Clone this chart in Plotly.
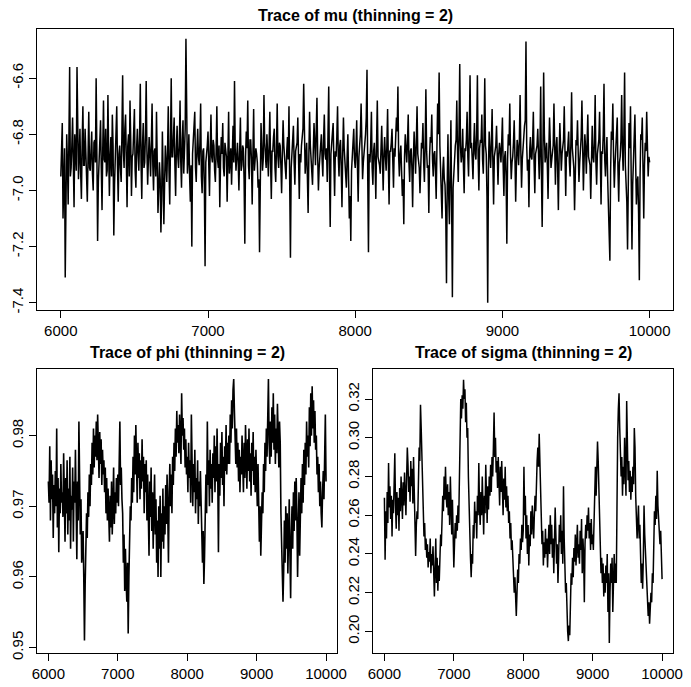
import numpy as np
import plotly.graph_objects as go

# ---------------- data ----------------
# mu at iterations 6000, 6010, ..., 10000
mu_values = [
    -6.95, -6.76, -6.98, -7.31, -6.80, -7.05, -6.56, -6.92, -6.74, -7.06, -6.85, -6.56, -6.96, -6.78, -7.03, -6.70, -6.91, -6.84, -7.04, -6.72,
    -6.93, -6.79, -7.00, -6.82, -6.60, -7.18, -6.86, -6.75, -7.07, -6.68, -6.90, -6.95, -6.66, -7.02, -6.81, -6.73, -7.16, -6.88, -6.70, -7.04,
    -6.84, -6.97, -6.59, -6.92, -6.73, -7.06, -6.80, -6.68, -7.02, -6.87, -6.71, -6.99, -6.78, -6.93, -6.62, -7.03, -6.76, -6.90, -6.61, -6.98,
    -6.81, -6.95, -6.69, -7.00, -6.85, -6.72, -7.08, -6.90, -7.15, -6.79, -7.12, -6.84, -6.97, -6.70, -7.05, -6.60, -6.88, -6.74, -7.02, -6.77,
    -6.92, -6.68, -6.99, -6.75, -6.86, -6.46, -6.94, -6.80, -7.04, -7.20, -6.83, -6.72, -6.97, -6.78, -6.91, -6.69, -7.01, -6.85, -7.27, -6.88,
    -6.79, -7.02, -6.73, -6.90, -6.84, -6.97, -6.70, -6.92, -7.06, -6.81, -6.76, -6.95, -6.86, -7.04, -6.72, -6.89, -6.98, -6.77, -6.61, -6.93,
    -6.83, -7.00, -6.74, -6.91, -6.85, -7.19, -6.79, -6.68, -6.96, -6.82, -7.05, -6.71, -6.90, -6.87, -6.99, -7.22, -6.76, -6.93, -6.66, -6.88,
    -6.80, -6.95, -6.72, -7.03, -6.86, -6.78, -6.97, -6.69, -6.92, -6.84, -7.01, -6.75, -6.89, -6.96, -6.81, -6.70, -7.24, -6.87, -6.77, -6.98,
    -6.85, -6.74, -7.03, -6.90, -6.79, -6.62, -6.94, -6.83, -7.08, -6.72, -6.88, -6.98, -6.76, -6.91, -6.67, -7.00, -6.86, -6.80, -6.95, -6.73,
    -6.89, -6.97, -6.63, -7.13, -6.84, -6.76, -7.02, -6.88, -6.70, -6.95, -6.82, -7.06, -6.74, -6.90, -6.99, -6.80, -7.10, -7.18, -6.86, -6.78,
    -6.92, -6.75, -7.04, -6.84, -6.69, -6.96, -6.87, -6.80, -6.57, -7.22, -6.90, -6.72, -6.98, -6.83, -7.03, -6.68, -6.89, -6.94, -6.77, -7.00,
    -6.81, -6.93, -6.71, -7.05, -6.86, -6.78, -6.99, -6.88, -6.74, -6.63, -6.95, -6.84, -7.02, -7.12, -6.80, -6.90, -6.73, -6.97, -6.85, -7.06,
    -6.79, -6.94, -6.70, -6.89, -7.01, -6.83, -6.76, -6.97, -6.64, -6.92, -7.08, -6.81, -6.73, -6.95, -6.86, -7.03, -6.69, -6.58, -6.91, -7.10,
    -6.88, -6.98, -7.33, -6.80, -7.12, -6.75, -7.38, -6.93, -6.84, -6.68, -6.97, -6.55, -6.90, -6.78, -7.01, -6.86, -6.72, -6.95, -6.59, -6.83,
    -6.96, -6.76, -6.89, -6.59, -7.00, -6.82, -6.73, -6.94, -6.60, -6.87, -7.40, -6.79, -6.92, -6.71, -7.05, -6.85, -6.77, -6.98, -6.83, -6.90,
    -6.74, -7.02, -6.86, -7.19, -6.80, -6.69, -6.96, -6.88, -6.75, -7.04, -6.82, -6.91, -6.66, -6.99, -6.84, -6.77, -6.47, -6.93, -7.06, -6.81,
    -6.89, -6.72, -7.01, -6.85, -6.78, -6.96, -6.63, -7.13, -6.58, -6.90, -6.83, -7.03, -6.74, -6.92, -6.87, -6.69, -6.98, -6.81, -7.07, -6.76,
    -6.93, -6.84, -6.70, -7.02, -6.88, -6.79, -6.95, -6.65, -6.91, -7.07, -6.82, -6.75, -6.97, -6.86, -6.68, -7.00, -6.80, -6.94, -6.73, -6.89,
    -7.03, -6.77, -6.90, -6.66, -6.98, -6.84, -6.72, -7.05, -6.87, -6.62, -6.95, -6.81, -7.10, -7.25, -6.79, -6.69, -6.99, -6.85, -6.74, -7.04,
    -6.88, -6.66, -6.93, -6.58, -6.98, -7.21, -6.76, -6.70, -7.21, -6.86, -6.73, -7.05, -6.95, -7.32, -6.80, -6.74, -7.10, -6.83, -6.72, -6.95,
    -6.90,
]
# mu at iterations 6005, 6015, ..., 9995
mu_values_mid = [
    -6.88, -7.10, -6.85, -7.05, -6.90, -6.82, -6.95, -6.84, -6.90, -6.80, -6.93, -6.86, -6.88, -6.94, -6.83, -6.91, -6.78, -6.95, -6.87, -6.92,
    -6.86, -6.94, -6.83, -6.90, -6.87, -6.97, -6.81, -6.92, -6.85, -6.89, -6.78, -6.93, -6.86, -6.88, -6.95, -6.84, -6.98, -6.82, -6.91, -6.87,
    -6.92, -6.80, -6.86, -6.78, -6.89, -6.84, -6.95, -6.82, -6.88, -6.79, -6.93, -6.85, -6.87, -6.81, -6.90, -6.84, -6.92, -6.80, -6.86, -6.89,
    -6.87, -6.83, -6.91, -6.86, -6.95, -6.89, -7.00, -6.96, -7.03, -6.94, -6.98, -6.90, -6.86, -6.93, -6.84, -6.88, -6.81, -6.91, -6.85, -6.88,
    -6.84, -6.90, -6.82, -6.94, -6.78, -6.86, -6.89, -6.95, -6.91, -6.87, -6.80, -6.92, -6.85, -6.88, -6.83, -6.95, -6.86, -6.98, -6.90, -6.84,
    -6.91, -6.85, -6.88, -6.82, -6.93, -6.86, -6.89, -6.84, -6.90, -6.87, -6.92, -6.83, -6.88, -6.86, -6.94, -6.85, -6.81, -6.90, -6.86, -6.88,
    -6.90, -6.86, -6.93, -6.84, -6.96, -6.88, -6.85, -6.91, -6.82, -6.89, -6.87, -6.93, -6.85, -6.90, -6.96, -6.87, -6.84, -6.89, -6.83, -6.92,
    -6.87, -6.84, -6.90, -6.86, -6.81, -6.92, -6.85, -6.88, -6.83, -6.91, -6.87, -6.84, -6.93, -6.86, -6.89, -6.98, -6.92, -6.85, -6.90, -6.86,
    -6.83, -6.90, -6.87, -6.84, -6.78, -6.86, -6.89, -6.95, -6.88, -6.84, -6.91, -6.86, -6.83, -6.79, -6.88, -6.92, -6.85, -6.89, -6.82, -6.87,
    -6.85, -6.80, -6.93, -6.87, -6.82, -6.90, -6.86, -6.81, -6.88, -6.84, -6.92, -6.87, -6.85, -6.91, -6.88, -6.96, -7.02, -6.93, -6.84, -6.89,
    -6.86, -6.91, -6.88, -6.80, -6.85, -6.90, -6.83, -6.74, -6.95, -6.87, -6.84, -6.92, -6.86, -6.90, -6.83, -6.88, -6.91, -6.85, -6.89, -6.87,
    -6.88, -6.84, -6.90, -6.86, -6.83, -6.89, -6.85, -6.81, -6.79, -6.88, -6.87, -6.93, -6.96, -6.88, -6.85, -6.83, -6.90, -6.86, -6.92, -6.89,
    -6.86, -6.83, -6.87, -6.92, -6.88, -6.85, -6.90, -6.84, -6.86, -6.91, -6.88, -6.83, -6.89, -6.87, -6.93, -6.85, -6.80, -6.84, -6.97, -6.93,
    -6.96, -7.08, -6.98, -7.02, -6.94, -7.05, -6.99, -6.90, -6.82, -6.86, -6.80, -6.84, -6.87, -6.91, -6.85, -6.82, -6.88, -6.79, -6.85, -6.89,
    -6.84, -6.87, -6.80, -6.88, -6.85, -6.83, -6.89, -6.81, -6.84, -7.02, -6.92, -6.86, -6.83, -6.90, -6.88, -6.84, -6.91, -6.87, -6.86, -6.83,
    -6.91, -6.88, -6.95, -6.89, -6.84, -6.87, -6.90, -6.83, -6.88, -6.91, -6.85, -6.82, -6.86, -6.89, -6.83, -6.75, -6.84, -6.89, -6.86, -6.88,
    -6.83, -6.90, -6.87, -6.84, -6.91, -6.85, -6.94, -6.88, -6.80, -6.87, -6.91, -6.86, -6.83, -6.89, -6.84, -6.88, -6.85, -6.92, -6.88, -6.84,
    -6.87, -6.82, -6.89, -6.86, -6.84, -6.90, -6.83, -6.85, -6.92, -6.88, -6.84, -6.87, -6.90, -6.81, -6.86, -6.89, -6.85, -6.83, -6.88, -6.91,
    -6.86, -6.88, -6.83, -6.90, -6.87, -6.82, -6.92, -6.86, -6.80, -6.89, -6.87, -6.96, -7.12, -6.93, -6.82, -6.88, -6.91, -6.84, -6.93, -6.90,
    -6.82, -6.85, -6.80, -6.91, -7.04, -6.94, -6.85, -6.96, -6.98, -6.84, -6.90, -6.97, -7.08, -6.95, -6.82, -6.92, -6.91, -6.86, -6.84, -6.88,
]

# phi at iterations 6000, 6010, ..., 10000
phi_values = [
    0.9735, 0.9705, 0.9785, 0.9680, 0.9765, 0.9710, 0.9745, 0.9655, 0.9730, 0.9690, 0.9750, 0.9700, 0.9810, 0.9670, 0.9740, 0.9635, 0.9725, 0.9690, 0.9760, 0.9705,
    0.9720, 0.9685, 0.9775, 0.9700, 0.9650, 0.9740, 0.9690, 0.9765, 0.9660, 0.9725, 0.9680, 0.9770, 0.9640, 0.9715, 0.9695, 0.9755, 0.9650, 0.9735, 0.9705, 0.9780,
    0.9700, 0.9625, 0.9735, 0.9680, 0.9820, 0.9690, 0.9660, 0.9710, 0.9620, 0.9640, 0.9665, 0.9600, 0.9510, 0.9590, 0.9640, 0.9690, 0.9655, 0.9720, 0.9685, 0.9745,
    0.9700, 0.9760, 0.9730, 0.9790, 0.9745, 0.9810, 0.9755, 0.9800, 0.9770, 0.9820, 0.9765, 0.9830, 0.9785, 0.9740, 0.9805, 0.9760, 0.9795, 0.9730, 0.9780, 0.9745,
    0.9765, 0.9720, 0.9755, 0.9690, 0.9740, 0.9680, 0.9725, 0.9700, 0.9650, 0.9715, 0.9670, 0.9735, 0.9660, 0.9700, 0.9755, 0.9675, 0.9720, 0.9690, 0.9740, 0.9705,
    0.9745, 0.9700, 0.9760, 0.9820, 0.9730, 0.9755, 0.9710, 0.9690, 0.9620, 0.9660, 0.9580, 0.9640, 0.9595, 0.9565, 0.9620, 0.9520, 0.9600, 0.9650, 0.9700, 0.9680,
    0.9740, 0.9705, 0.9770, 0.9720, 0.9800, 0.9745, 0.9815, 0.9760, 0.9705, 0.9790, 0.9740, 0.9775, 0.9710, 0.9765, 0.9725, 0.9795, 0.9735, 0.9770, 0.9690, 0.9760,
    0.9720, 0.9765, 0.9680, 0.9745, 0.9700, 0.9630, 0.9735, 0.9685, 0.9755, 0.9665, 0.9720, 0.9640, 0.9700, 0.9745, 0.9660, 0.9710, 0.9620, 0.9680, 0.9600, 0.9700,
    0.9640, 0.9715, 0.9600, 0.9690, 0.9650, 0.9725, 0.9640, 0.9700, 0.9660, 0.9730, 0.9675, 0.9745, 0.9690, 0.9620, 0.9720, 0.9760, 0.9700, 0.9745, 0.9690, 0.9770,
    0.9730, 0.9790, 0.9750, 0.9810, 0.9770, 0.9835, 0.9790, 0.9815, 0.9775, 0.9830, 0.9795, 0.9760, 0.9860, 0.9800, 0.9825, 0.9780, 0.9810, 0.9755, 0.9795, 0.9745,
    0.9770, 0.9720, 0.9790, 0.9740, 0.9765, 0.9705, 0.9830, 0.9745, 0.9700, 0.9760, 0.9720, 0.9780, 0.9690, 0.9740, 0.9710, 0.9765, 0.9675, 0.9735, 0.9700, 0.9750,
    0.9690, 0.9650, 0.9620, 0.9665, 0.9590, 0.9630, 0.9700, 0.9745, 0.9690, 0.9820, 0.9730, 0.9765, 0.9700, 0.9780, 0.9725, 0.9760, 0.9705, 0.9775, 0.9740, 0.9800,
    0.9720, 0.9785, 0.9735, 0.9810, 0.9745, 0.9635, 0.9760, 0.9715, 0.9790, 0.9740, 0.9805, 0.9730, 0.9770, 0.9700, 0.9785, 0.9750, 0.9815, 0.9745, 0.9790, 0.9760,
    0.9800, 0.9760, 0.9830, 0.9790, 0.9850, 0.9810, 0.9865, 0.9880, 0.9835, 0.9790, 0.9760, 0.9810, 0.9755, 0.9790, 0.9735, 0.9780, 0.9720, 0.9770, 0.9745, 0.9800,
    0.9760, 0.9720, 0.9790, 0.9740, 0.9815, 0.9760, 0.9725, 0.9795, 0.9750, 0.9810, 0.9735, 0.9775, 0.9715, 0.9790, 0.9750, 0.9805, 0.9730, 0.9770, 0.9720, 0.9780,
    0.9740, 0.9700, 0.9760, 0.9680, 0.9650, 0.9700, 0.9630, 0.9675, 0.9720, 0.9690, 0.9760, 0.9720, 0.9790, 0.9750, 0.9810, 0.9770, 0.9830, 0.9880, 0.9790, 0.9760,
    0.9820, 0.9770, 0.9840, 0.9790, 0.9860, 0.9780, 0.9830, 0.9760, 0.9810, 0.9775, 0.9845, 0.9790, 0.9755, 0.9820, 0.9790, 0.9690, 0.9640, 0.9590, 0.9565, 0.9610,
    0.9680, 0.9620, 0.9700, 0.9640, 0.9690, 0.9605, 0.9665, 0.9710, 0.9630, 0.9570, 0.9660, 0.9700, 0.9640, 0.9720, 0.9665, 0.9735, 0.9680, 0.9740, 0.9690, 0.9600,
    0.9660, 0.9720, 0.9630, 0.9700, 0.9740, 0.9690, 0.9760, 0.9705, 0.9780, 0.9730, 0.9790, 0.9745, 0.9820, 0.9770, 0.9800, 0.9755, 0.9840, 0.9785, 0.9860, 0.9800,
    0.9870, 0.9810, 0.9850, 0.9790, 0.9835, 0.9780, 0.9800, 0.9745, 0.9770, 0.9720, 0.9760, 0.9700, 0.9735, 0.9690, 0.9670, 0.9720, 0.9750, 0.9710, 0.9770, 0.9830,
    0.9735,
]

# sigma at iterations 6000, 6010, ..., 10000
sigma_values = [
    0.2690, 0.2370, 0.2620, 0.2480, 0.2720, 0.2560, 0.2870, 0.2640, 0.2750, 0.2580, 0.2700, 0.2490, 0.2680, 0.2610, 0.2760, 0.2920, 0.2650, 0.2530, 0.2720, 0.2600,
    0.2690, 0.2520, 0.2740, 0.2620, 0.2800, 0.2680, 0.2580, 0.2770, 0.2650, 0.2820, 0.2710, 0.2600, 0.2790, 0.2950, 0.2860, 0.2720, 0.2800, 0.2670, 0.2880, 0.2750,
    0.2840, 0.2660, 0.2900, 0.2700, 0.2630, 0.2390, 0.2550, 0.2620, 0.2580, 0.2700, 0.2950, 0.2880, 0.3170, 0.3050, 0.2920, 0.2700, 0.2560, 0.2490, 0.2560, 0.2420,
    0.2480, 0.2380, 0.2450, 0.2330, 0.2410, 0.2360, 0.2480, 0.2300, 0.2400, 0.2340, 0.2440, 0.2260, 0.2180, 0.2320, 0.2480, 0.2250, 0.2380, 0.2210, 0.2340, 0.2260,
    0.2360, 0.2500, 0.2440, 0.2580, 0.2700, 0.2620, 0.2800, 0.2680, 0.2850, 0.2700, 0.2640, 0.2760, 0.2600, 0.2720, 0.2550, 0.2800, 0.2620, 0.2500, 0.2680, 0.2420,
    0.2330, 0.2450, 0.2560, 0.2480, 0.2600, 0.2520, 0.2650, 0.2560, 0.2800, 0.2950, 0.3200, 0.3100, 0.3220, 0.3150, 0.3300, 0.3200, 0.3250, 0.3080, 0.3180, 0.3000,
    0.3050, 0.2800, 0.2620, 0.2450, 0.2380, 0.2280, 0.2400, 0.2350, 0.2550, 0.2480, 0.2670, 0.2560, 0.2620, 0.2480, 0.2700, 0.2600, 0.2870, 0.2640, 0.2550, 0.2720,
    0.2600, 0.2800, 0.2650, 0.2500, 0.2700, 0.2610, 0.2860, 0.2680, 0.2560, 0.2750, 0.2630, 0.2800, 0.2700, 0.2860, 0.2720, 0.2900, 0.2800, 0.2950, 0.3130, 0.2900,
    0.3000, 0.2820, 0.2880, 0.2740, 0.2900, 0.2780, 0.2650, 0.2850, 0.2720, 0.2880, 0.2700, 0.2600, 0.2790, 0.2680, 0.2850, 0.2640, 0.2750, 0.2620, 0.2700, 0.2560,
    0.2620, 0.2480, 0.2560, 0.2420, 0.2470, 0.2380, 0.2300, 0.2200, 0.2280, 0.2160, 0.2080, 0.2200, 0.2320, 0.2250, 0.2400, 0.2350, 0.2480, 0.2420, 0.2550, 0.2460,
    0.2520, 0.2850, 0.2600, 0.2700, 0.2480, 0.2600, 0.2400, 0.2550, 0.2340, 0.2500, 0.2440, 0.2620, 0.2500, 0.2650, 0.2560, 0.2480, 0.2600, 0.2700, 0.2620, 0.2800,
    0.2880, 0.2950, 0.2850, 0.3020, 0.2900, 0.2780, 0.2600, 0.2450, 0.2520, 0.2340, 0.2460, 0.2380, 0.2530, 0.2400, 0.2480, 0.2330, 0.2450, 0.2550, 0.2400, 0.2600,
    0.2450, 0.2550, 0.2380, 0.2480, 0.2300, 0.2420, 0.2640, 0.2500, 0.2350, 0.2450, 0.2250, 0.2380, 0.2550, 0.2460, 0.2600, 0.2400, 0.2520, 0.2350, 0.2750, 0.2480,
    0.2350, 0.2200, 0.2250, 0.2080, 0.2000, 0.1950, 0.2030, 0.1980, 0.2150, 0.2300, 0.2240, 0.2380, 0.2280, 0.2430, 0.2360, 0.2500, 0.2340, 0.2420, 0.2550, 0.2380,
    0.2450, 0.2350, 0.2520, 0.2420, 0.2580, 0.2300, 0.2480, 0.2400, 0.2150, 0.2450, 0.2550, 0.2480, 0.2600, 0.2520, 0.2640, 0.2480, 0.2560, 0.2420, 0.2580, 0.2450,
    0.2500, 0.2420, 0.2600, 0.2750, 0.2850, 0.2700, 0.2900, 0.2980, 0.2880, 0.2700, 0.2500, 0.2400, 0.2300, 0.2380, 0.2250, 0.2350, 0.2180, 0.2300, 0.2200, 0.2340,
    0.2250, 0.2400, 0.2100, 0.2300, 0.1940, 0.2200, 0.2350, 0.2250, 0.2380, 0.2100, 0.2300, 0.2400, 0.2250, 0.2350, 0.2250, 0.2850, 0.3000, 0.3150, 0.3230, 0.3050,
    0.2950, 0.2800, 0.2900, 0.2700, 0.2850, 0.2760, 0.3000, 0.2850, 0.2700, 0.3190, 0.2900, 0.2780, 0.2880, 0.2720, 0.2830, 0.2680, 0.2800, 0.2720, 0.2850, 0.2760,
    0.3050, 0.2950, 0.2700, 0.2600, 0.2480, 0.2560, 0.2650, 0.2480, 0.2550, 0.2400, 0.2250, 0.2350, 0.2220, 0.2380, 0.2650, 0.2500, 0.2400, 0.2300, 0.2200, 0.2150,
    0.2080, 0.2150, 0.2040, 0.2120, 0.2200, 0.2150, 0.2300, 0.2250, 0.2480, 0.2620, 0.2550, 0.2700, 0.2580, 0.2830, 0.2650, 0.2560, 0.2500, 0.2450, 0.2520, 0.2400,
    0.2270,
]

iter_start, iter_end = 6000, 10000
x_ticks = [6000, 7000, 8000, 9000, 10000]
x_ticklabels = ["6000", "7000", "8000", "9000", "10000"]
mu_ticks = [-7.4, -7.2, -7.0, -6.8, -6.6]
mu_ticklabels = ["-7.4", "-7.2", "-7.0", "-6.8", "-6.6"]
phi_ticks = [0.95, 0.96, 0.97, 0.98]
phi_ticklabels = ["0.95", "0.96", "0.97", "0.98"]
sigma_ticks = [0.20, 0.22, 0.24, 0.26, 0.28, 0.30, 0.32]
sigma_ticklabels = ["0.20", "0.22", "0.24", "0.26", "0.28", "0.30", "0.32"]
titles = ["Trace of mu (thinning = 2)", "Trace of phi (thinning = 2)", "Trace of sigma (thinning = 2)"]

# ---------------- figure ----------------
W, H = 691, 687
FONT = "Liberation Sans, Arial, Helvetica, sans-serif"

def iters(v, a=iter_start, b=iter_end):
    return np.linspace(a, b, len(v))

# merge mu samples (main + mid-points) in iteration order
mu_x = np.concatenate([iters(mu_values), iters(mu_values_mid, iter_start + 5, iter_end - 5)])
mu_y = np.concatenate([np.array(mu_values), np.array(mu_values_mid)])
order = np.argsort(mu_x, kind="stable")
mu_x, mu_y = mu_x[order], mu_y[order]

fig = go.Figure()
fig.add_trace(go.Scatter(x=mu_x, y=mu_y, mode="lines", line=dict(color="black", width=1.5),
                         xaxis="x", yaxis="y", hoverinfo="skip"))
fig.add_trace(go.Scatter(x=iters(phi_values), y=phi_values, mode="lines", line=dict(color="black", width=1.6),
                         xaxis="x2", yaxis="y2", hoverinfo="skip"))
fig.add_trace(go.Scatter(x=iters(sigma_values), y=sigma_values, mode="lines", line=dict(color="black", width=1.5),
                         xaxis="x3", yaxis="y3", hoverinfo="skip"))

def px_x(a, b):
    return [a / W, b / W]

def px_y(top, bottom):
    return [1 - bottom / H, 1 - top / H]

axis_common = dict(showline=True, mirror=True, linecolor="black", linewidth=1,
                   ticks="outside", ticklen=7, tickcolor="black", tickwidth=1,
                   showgrid=False, zeroline=False,
                   tickfont=dict(family=FONT, size=15, color="black"))

xr = [iter_start - 0.04 * (iter_end - iter_start), iter_end + 0.04 * (iter_end - iter_start)]

fig.update_layout(
    width=W, height=H, autosize=False,
    margin=dict(l=0, r=0, t=0, b=0),
    paper_bgcolor="white", plot_bgcolor="white",
    showlegend=False,
    xaxis=dict(domain=px_x(32, 683), range=xr, tickvals=x_ticks, ticktext=x_ticklabels, anchor="y", **axis_common),
    yaxis=dict(domain=px_y(29, 313), range=[-7.425, -6.424], tickvals=mu_ticks, ticktext=mu_ticklabels,
               tickangle=-90, anchor="x", **axis_common),
    xaxis2=dict(domain=px_x(32, 339), range=xr, tickvals=x_ticks, ticktext=x_ticklabels, anchor="y2", **axis_common),
    yaxis2=dict(domain=px_y(373, 660), range=[0.9492, 0.9894], tickvals=phi_ticks, ticktext=phi_ticklabels,
                tickangle=-90, anchor="x2", **axis_common),
    xaxis3=dict(domain=px_x(376, 683), range=xr, tickvals=x_ticks, ticktext=x_ticklabels, anchor="y3", **axis_common),
    yaxis3=dict(domain=px_y(373, 660), range=[0.1887, 0.3354], tickvals=sigma_ticks, ticktext=sigma_ticklabels,
                tickangle=-90, anchor="x3", **axis_common),
)

title_pos = [((32 + 683) / 2, 16), ((32 + 339) / 2, 356), ((376 + 683) / 2, 356)]
for t, (cx, cy) in zip(titles, title_pos):
    fig.add_annotation(text="<b>" + t + "</b>", xref="paper", yref="paper",
                       x=cx / W, y=1 - cy / H, xanchor="center", yanchor="middle",
                       showarrow=False, font=dict(family=FONT, size=16, color="black"))

fig.write_html("out.html")
